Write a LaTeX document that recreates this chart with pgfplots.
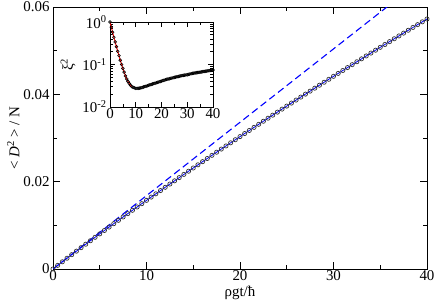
\documentclass[border=0pt]{standalone}
\usepackage{fontspec}
\setmainfont{Liberation Serif}
\usepackage{pgfplots}
\pgfplotsset{compat=1.18}
\begin{document}
\begin{tikzpicture}[font=\fontsize{15}{17}\selectfont]
\begin{axis}[
  scale only axis, width=374bp, height=262bp,
  xmin=0, xmax=40, ymin=0, ymax=0.06,
  xtick={0,10,20,30,40}, ytick={0,0.02,0.04,0.06},
  yticklabels={0,0.02,0.04,0.06}, scaled y ticks=false,
  minor x tick num=1, minor y tick num=1,
  tick align=inside, major tick length=7bp, minor tick length=4bp,
  axis line style={line width=0.8bp}, every tick/.style={black, line width=0.8bp},
  /pgf/number format/assume math mode=true,
  xticklabel style={yshift=2bp},
  xlabel={ρgt/ħ}, ylabel={< \textit{D}\textsuperscript{2} > / N},
  xlabel style={yshift=1.5bp}, ylabel style={yshift=-3bp},
  clip=true,
]
\addplot[blue, dashed, line width=1.1bp, dash pattern=on 7bp off 4bp] coordinates {(0,0) (40,0.0672)};
\addplot[blue, line width=0.8bp, mark=o, mark size=2.1bp, mark options={draw=black!80, line width=0.7bp, solid}] coordinates {
(0,0) (0.5,0.000831) (1,0.001653) (1.5,0.002468) (2,0.003278) (2.5,0.004082) (3,0.004882) (3.5,0.005678)
(4,0.00647) (4.5,0.007258) (5,0.008043) (5.5,0.008824) (6,0.009602) (6.5,0.010377) (7,0.011148) (7.5,0.011917)
(8,0.012682) (8.5,0.013445) (9,0.014205) (9.5,0.014962) (10,0.015717) (10.5,0.016468) (11,0.017218) (11.5,0.017965)
(12,0.018711) (12.5,0.019452) (13,0.020192) (13.5,0.020929) (14,0.021665) (14.5,0.022397) (15,0.023128) (15.5,0.023856)
(16,0.024583) (16.5,0.025306) (17,0.026029) (17.5,0.026748) (18,0.027467) (18.5,0.028182) (19,0.028896) (19.5,0.029607)
(20,0.030318) (20.5,0.031025) (21,0.031731) (21.5,0.032434) (22,0.033136) (22.5,0.033835) (23,0.034534) (23.5,0.035230)
(24,0.035925) (24.5,0.036617) (25,0.037309) (25.5,0.037998) (26,0.038686) (26.5,0.039370) (27,0.040053) (27.5,0.040734)
(28,0.041415) (28.5,0.042093) (29,0.042771) (29.5,0.043446) (30,0.04412) (30.5,0.044791) (31,0.045462) (31.5,0.04613)
(32,0.046797) (32.5,0.047462) (33,0.048126) (33.5,0.048788) (34,0.04945) (34.5,0.050108) (35,0.050765) (35.5,0.05142)
(36,0.052075) (36.5,0.052728) (37,0.05338) (37.5,0.054027) (38,0.054674) (38.5,0.05532) (39,0.055965) (39.5,0.056608)
(40,0.05725)};
\end{axis}
\begin{axis}[
  at={(57bp,247bp)}, anchor=north west,
  scale only axis, width=103bp, height=85bp,
  xmin=0, xmax=40, ymin=0.01, ymax=1, ymode=log,
  xtick={0,10,20,30,40}, ytick={0.01,0.1,1},
  yticklabels={10\textsuperscript{-2},10\textsuperscript{-1},10\textsuperscript{0}},
  minor x tick num=1,
  tick align=inside, major tick length=5bp, minor tick length=3bp,
  axis line style={line width=0.8bp}, every tick/.style={black, line width=0.6bp},
  /pgf/number format/assume math mode=true,
  xticklabel style={yshift=2bp},
  ylabel={ξ\textsuperscript{2}}, ylabel style={yshift=0bp},
  axis background/.style={fill=white},
]
\addplot[black, only marks, mark=o, mark size=1.4bp, mark options={line width=0.6bp}] coordinates {
(0,1) (0.5,0.759) (1,0.575) (1.5,0.437) (2,0.339) (2.5,0.263) (3,0.204) (3.5,0.162) (4,0.126) (4.5,0.100)
(5,0.0813) (5.5,0.0661) (6,0.0537) (6.5,0.0457) (7,0.0398) (7.5,0.0355) (8,0.0324) (8.5,0.0302) (9,0.0288)
(9.5,0.0282) (10,0.0275) (10.5,0.0275) (11,0.0275) (11.5,0.0278) (12,0.0282) (12.5,0.0288) (13,0.0295) (13.5,0.0302)
(14,0.0309) (14.5,0.0316) (15,0.0324) (15.5,0.0331) (16,0.0339) (16.5,0.0347) (17,0.0355) (17.5,0.0363) (18,0.0372)
(18.5,0.0380) (19,0.0389) (19.5,0.0398) (20,0.0407) (20.5,0.0417) (21,0.0427) (21.5,0.0437) (22,0.0447) (22.5,0.0455)
(23,0.0463) (23.5,0.0471) (24,0.0479) (24.5,0.0487) (25,0.0496) (25.5,0.0504) (26,0.0513) (26.5,0.0522) (27,0.0531)
(27.5,0.0540) (28,0.0550) (28.5,0.0556) (29,0.0562) (29.5,0.0569) (30,0.0575) (30.5,0.0585) (31,0.0596) (31.5,0.0606)
(32,0.0617) (32.5,0.0624) (33,0.0631) (33.5,0.0638) (34,0.0646) (34.5,0.0653) (35,0.0661) (35.5,0.0668) (36,0.0676)
(36.5,0.0684) (37,0.0692) (37.5,0.0700) (38,0.0708) (38.5,0.0716) (39,0.0724) (39.5,0.0733) (40,0.0741)};
\addplot[red, line width=1bp] coordinates {
(0,1) (0.5,0.759) (1,0.575) (1.5,0.437) (2,0.339) (2.5,0.263) (3,0.204) (3.5,0.162) (4,0.126) (4.5,0.100)
(5,0.0813) (5.5,0.0661) (6,0.0537) (6.5,0.0457) (7,0.0398) (7.5,0.0355) (8,0.0324) (8.5,0.0302)};
\end{axis}
\pgfresetboundingbox
\path[use as bounding box] (-53bp,-36bp) rectangle (383bp,269bp);
\end{tikzpicture}
\end{document}
